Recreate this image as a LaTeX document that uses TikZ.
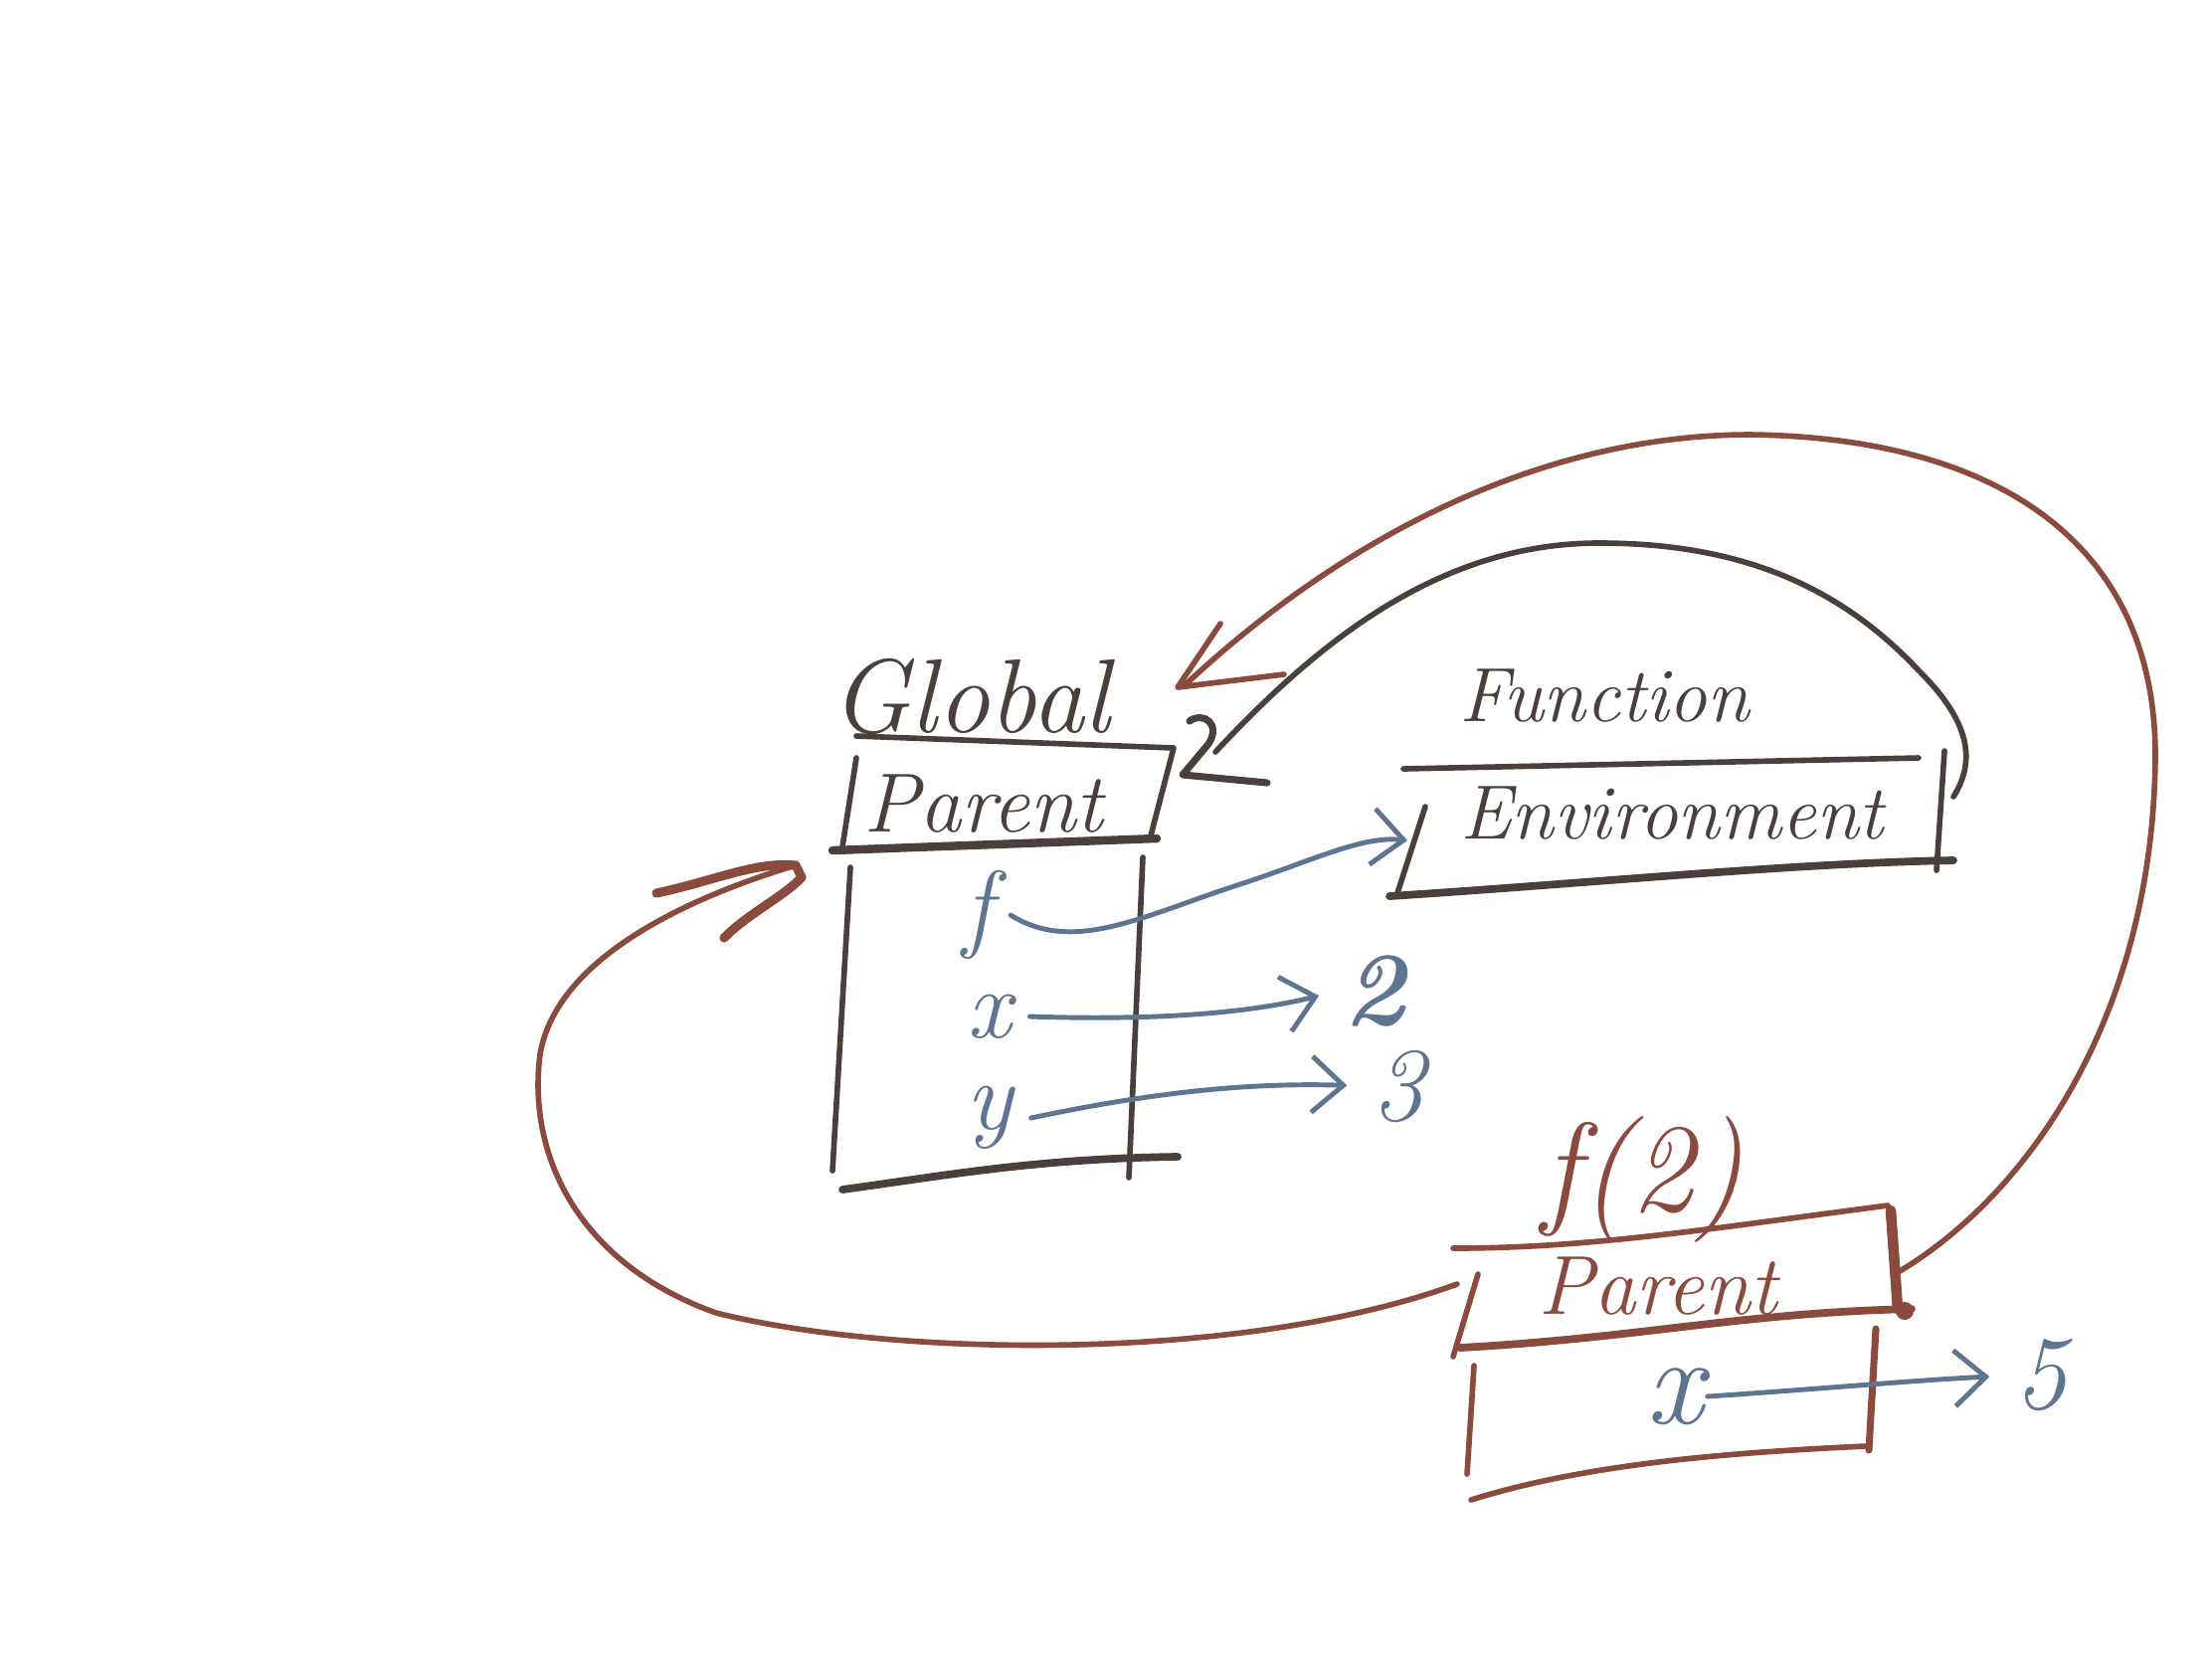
\documentclass[tikz,border=0pt]{standalone}
\usetikzlibrary{arrows.meta}
\definecolor{ink}{HTML}{4B3F3D}
\definecolor{rust}{HTML}{8A4B3E}
\definecolor{slate}{HTML}{5E7591}
\tikzset{
  stroke/.style={line width=1.6pt, line cap=round, line join=round},
  boxline/.style={stroke, draw=ink},
  redline/.style={stroke, draw=rust},
  blueline/.style={stroke, draw=slate, line width=1.4pt},
  hand/.style={inner sep=1pt},
  varname/.style={inner sep=0pt, text=slate, font=\hf{28}},
  bluetip/.style={-{Straight Barb[length=9pt,width=16pt,line width=1.4pt]}},
}
\newcommand{\hf}[1]{\fontsize{#1}{#1}\selectfont\itshape}
\begin{document}
\begin{tikzpicture}[x=0.01cm,y=-0.01cm]
\useasboundingbox (0,0) rectangle (2224,1668);
\fill[white] (0,0) rectangle (2224,1668);

% ---------- Global frame ----------
\node[hand, text=ink, font=\hf{30}] (global) at (976,700) {Global};
\draw[boxline] (861,740) -- (1180,752) -- (1156,844);
\draw[boxline] (861,762) -- (847,851);
\node[hand, text=ink, font=\hf{24}] (gparent) at (989,808) {Parent};
\draw[boxline, line width=2.4pt] (837,855) -- (1163,843);
\draw[boxline] (855,872) -- (837,1177);
\draw[boxline] (1149,862) -- (1135,1184);
\draw[boxline, line width=2.2pt] (847,1196) .. controls (950,1182) and (1040,1165) .. (1184,1163);

\node[varname] (f) at (983,920) {f};
\node[varname] (x) at (995,1022) {x};
\node[varname] (y) at (995,1124) {y};
\node[hand, text=slate, font=\bfseries\hf{30}] (two) at (1382,996) {2};
\node[hand, text=slate, font=\hf{30}] (three) at (1406,1092) {3};

% ---------- Function environment ----------
\node[hand, text=ink, font=\hf{22}] (function) at (1613,700) {Function};
\draw[boxline] (1411,773) -- (1929,762);
\draw[boxline] (1433,811) -- (1404,901);
\draw[boxline] (1955,755) -- (1947,875);
\draw[boxline, line width=2.2pt] (1397,901) .. controls (1600,888) and (1800,868) .. (1964,865);
\node[hand, text=ink, font=\hf{22}] (env) at (1681,818) {Environment};
\coordinate (envW) at (1415,845);
\coordinate (envR) at (1964,801);
\coordinate (gR) at (1222,756);

% ---------- f(2) frame ----------
\node[hand, text=rust, font=\hf{36}] (fcall) at (1652,1186) {f(2)};
\draw[redline] (1461,1255) .. controls (1600,1255) and (1720,1235) .. (1898,1212);
\draw[redline, line width=3pt] (1901,1217) -- (1908,1316);
\draw[redline] (1486,1281) -- (1461,1364);
\node[hand, text=rust, font=\hf{24}] (fparent) at (1667,1293) {Parent};
\draw[redline, line width=2.2pt] (1468,1355) .. controls (1650,1345) and (1750,1320) .. (1922,1316);
\fill[rust] (1915,1318) circle (9);
\draw[redline] (1482,1373) -- (1475,1482);
\draw[redline, line width=2pt] (1886,1336) -- (1879,1458);
\draw[redline] (1479,1508) .. controls (1600,1470) and (1750,1460) .. (1875,1454);
\node[hand, text=slate, font=\hf{36}] (fx) at (1684,1404) {x};
\node[hand, text=slate, font=\hf{30}] (five) at (2052,1383) {5};
\coordinate (fR) at (1910,1278);
\coordinate (fL) at (1465,1291);
\coordinate (gA) at (1190,690);
\coordinate (gB) at (800,870);

% ---------- blue pointers ----------
\draw[blueline, bluetip] ([xshift=5pt]f.east) .. controls (1080,960) and (1150,920) .. (1250,888)
   .. controls (1320,865) and (1370,840) .. (envW);
\draw[blueline, bluetip, shorten >=6pt] ([xshift=5pt]x.east) .. controls (1150,1026) and (1250,1020) .. (two.west);
\draw[blueline, bluetip, shorten >=6pt] ([xshift=5pt]y.east) .. controls (1150,1100) and (1250,1088) .. (three.west);
\draw[blueline, bluetip, shorten >=6pt] (fx.east) .. controls (1850,1395) and (1920,1388) .. (five.west);

% ---------- environment parent pointer (dark) ----------
\draw[boxline] (envR) .. controls (1990,760) and (1975,720) .. (1929,674)
   .. controls (1850,590) and (1750,545) .. (1603,546)
   .. controls (1450,548) and (1330,640) .. (gR);
\draw[boxline, line width=2pt] (1196,725) .. controls (1210,715) and (1228,728) .. (1215,748)
   -- (1189,779) -- (1274,787);

% ---------- f(2) parent pointer (rust) ----------
\draw[redline] (fR) .. controls (2040,1200) and (2165,1020) .. (2167,760)
   .. controls (2167,540) and (2000,440) .. (1760,437)
   .. controls (1550,437) and (1350,540) .. (gA);
\draw[redline] (1227,627) -- (1184,691) -- (1291,678);

% ---------- f(2) caller pointer (rust) ----------
\draw[redline] (fL) .. controls (1250,1370) and (900,1365) .. (720,1320)
   .. controls (580,1270) and (530,1160) .. (543,1060)
   .. controls (560,960) and (700,900) .. (gB);
\draw[redline, line width=2.6pt] (660,898) .. controls (720,885) and (760,866) .. (800,870)
   -- (806,882) .. controls (790,900) and (750,920) .. (728,943);
\end{tikzpicture}
\end{document}
